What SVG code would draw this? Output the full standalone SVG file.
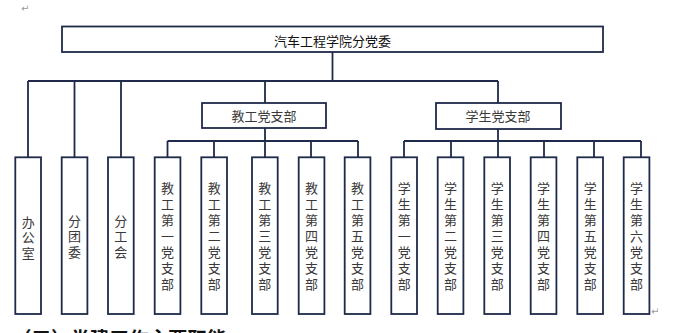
<svg xmlns="http://www.w3.org/2000/svg" width="674" height="333" viewBox="0 0 674 333">
<style>
.box{fill:#fff;stroke:#1f2a4a;stroke-width:1.8}
.ln{fill:none;stroke:#1f2a4a;stroke-width:1.8}
.t{font-family:"Noto Sans CJK SC","Noto Sans",sans-serif;font-size:13px;fill:#3a3a3a;text-anchor:middle}
.v{font-family:"Noto Sans CJK SC","Noto Sans",sans-serif;font-size:13px;fill:#3a3a3a;text-anchor:middle;writing-mode:vertical-rl;letter-spacing:3px}
.v3{letter-spacing:2.5px}
.title{font-family:"Noto Sans CJK SC","Noto Sans",sans-serif;font-size:13px;fill:#111;text-anchor:middle}
.mark{font-family:"DejaVu Sans",sans-serif;font-size:10px;fill:#999}
.cut{font-family:"Noto Sans CJK SC",sans-serif;font-size:19.5px;font-weight:bold;fill:#111}
</style>
<rect width="674" height="333" fill="#fff"/>
<text class="mark" x="21" y="12">↵</text>
<g id="connectors">
<path class="ln" d="M332.5 52V81M28 81H498M28 81V157.3M74.5 81V157.3M121 81V157.3M265 81V103M498 81V103"/>
<path class="ln" d="M265 128V141M167.5 141H358M167.5 141V157.3M214 141V157.3M265 141V157.3M311 141V157.3M358 141V157.3"/>
<path class="ln" d="M498 129V141M404 141H641M404 141V157.3M451 141V157.3M498 141V157.3M544 141V157.3M594 141V157.3M641 141V157.3"/>
</g>
<g id="root"><rect class="box" x="62" y="26.5" width="541" height="25.5"/><text class="title" x="332.5" y="46">汽车工程学院分党委</text></g>
<g id="jg"><rect class="box" x="202" y="103" width="124" height="25"/><text class="t" x="264" y="120.5">教工党支部</text></g>
<g id="xs"><rect class="box" x="436" y="103" width="125" height="26"/><text class="t" x="498" y="121">学生党支部</text></g>
<g id="n1"><rect class="box" x="15.3" y="157.3" width="25.7" height="156.7"/><text class="v v3" x="28.2" y="238.5">办公室</text></g>
<g id="n2"><rect class="box" x="61.7" y="157.3" width="25.7" height="156.7"/><text class="v v3" x="74.5" y="237.5">分团委</text></g>
<g id="n3"><rect class="box" x="108" y="157.3" width="25.7" height="156.7"/><text class="v v3" x="120.8" y="237.5">分工会</text></g>
<g id="n4"><rect class="box" x="154.7" y="157.3" width="25.7" height="156.7"/><text class="v" x="167.5" y="238">教工第一党支部</text></g>
<g id="n5"><rect class="box" x="201.3" y="157.3" width="25.7" height="156.7"/><text class="v" x="214.2" y="238">教工第二党支部</text></g>
<g id="n6"><rect class="box" x="252" y="157.3" width="25.7" height="156.7"/><text class="v" x="264.8" y="238">教工第三党支部</text></g>
<g id="n7"><rect class="box" x="298.7" y="157.3" width="25.7" height="156.7"/><text class="v" x="311.5" y="238">教工第四党支部</text></g>
<g id="n8"><rect class="box" x="344.7" y="157.3" width="25.7" height="156.7"/><text class="v" x="357.5" y="238">教工第五党支部</text></g>
<g id="n9"><rect class="box" x="391.3" y="157.3" width="25.7" height="156.7"/><text class="v" x="404.2" y="238">学生第一党支部</text></g>
<g id="n10"><rect class="box" x="437.7" y="157.3" width="25.7" height="156.7"/><text class="v" x="450.5" y="238">学生第二党支部</text></g>
<g id="n11"><rect class="box" x="484.3" y="157.3" width="25.7" height="156.7"/><text class="v" x="497.2" y="238">学生第三党支部</text></g>
<g id="n12"><rect class="box" x="530.7" y="157.3" width="25.7" height="156.7"/><text class="v" x="543.6" y="238">学生第四党支部</text></g>
<g id="n13"><rect class="box" x="577.3" y="157.3" width="25.7" height="156.7"/><text class="v" x="590.2" y="238">学生第五党支部</text></g>
<g id="n14"><rect class="box" x="623.7" y="157.3" width="25.7" height="156.7"/><text class="v" x="636.5" y="238">学生第六党支部</text></g>
<text class="mark" x="651" y="315">↵</text>
<text class="cut" x="12" y="346">（三）党建工作主要职能</text>
</svg>
